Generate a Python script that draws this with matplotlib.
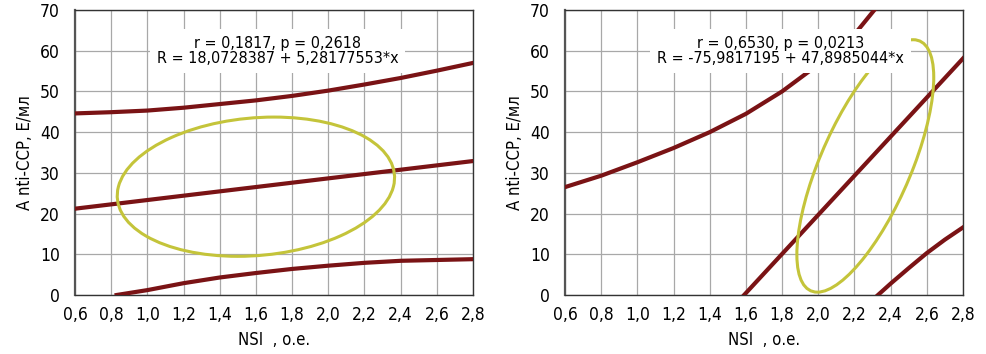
import matplotlib
matplotlib.use('Agg')
import matplotlib.pyplot as plt
from matplotlib import font_manager
from matplotlib.patches import Ellipse
from matplotlib.transforms import Affine2D

#------------------------------------------------------------------------------
# Data
#------------------------------------------------------------------------------
x_ticks = [0.6, 0.8, 1.0, 1.2, 1.4, 1.6, 1.8, 2.0, 2.2, 2.4, 2.6, 2.8]
x_ticklabels = ['0,6', '0,8', '1,0', '1,2', '1,4', '1,6', '1,8', '2,0', '2,2', '2,4', '2,6', '2,8']
y_ticks = [0, 10, 20, 30, 40, 50, 60, 70]

# left panel
l_fit_x = [0.6, 2.8]
l_fit_y = [21.2, 32.9]
l_up_x = [0.6, 0.8, 1.0, 1.2, 1.4, 1.6, 1.8, 2.0, 2.2, 2.4, 2.6, 2.8]
l_up_y = [44.6, 44.9, 45.3, 46.0, 46.9, 47.8, 48.9, 50.2, 51.7, 53.3, 55.1, 57.0]
l_lo_x = [0.83, 1.0, 1.2, 1.4, 1.6, 1.8, 2.0, 2.2, 2.4, 2.6, 2.8]
l_lo_y = [0.0, 1.2, 2.9, 4.3, 5.4, 6.4, 7.2, 7.9, 8.4, 8.6, 8.8]
l_ell_center = (1.60, 26.6)
l_ell_u = (0.10, 17.1)
l_ell_v = (0.76, 0.0)
l_text = 'r = 0,1817, p = 0,2618\nR = 18,0728387 + 5,28177553*x'

# right panel
r_fit_x = [1.59, 2.8]
r_fit_y = [0.0, 58.1]
r_up_x = [0.6, 0.8, 1.0, 1.2, 1.4, 1.6, 1.8, 2.0, 2.2, 2.31]
r_up_y = [26.5, 29.3, 32.6, 36.1, 40.0, 44.5, 50.0, 56.6, 64.0, 70.0]
r_lo_x = [2.33, 2.4, 2.5, 2.6, 2.7, 2.8]
r_lo_y = [0.0, 2.8, 6.6, 10.3, 13.6, 16.6]
r_ell_center = (2.26, 31.7)
r_ell_u = (0.265, 31.0)
r_ell_v = (0.27, 0.0)
r_text = 'r = 0,6530, p = 0,0213\nR = -75,9817195 + 47,8985044*x'

#------------------------------------------------------------------------------
# Plot
#------------------------------------------------------------------------------
# condensed face if one is installed
cond = font_manager.FontProperties(family='DejaVu Sans', stretch='condensed')
cond_file = font_manager.findfont(cond)
if 'Condensed' in cond_file:
    tick_font = dict(family='DejaVu Sans', stretch='condensed', size=12.5)
else:
    tick_font = dict(family='Liberation Sans', size=12)

plt.rcParams['font.family'] = ['Liberation Sans', 'DejaVu Sans']
red = '#7a1315'
yellow = '#c4c43a'

fig = plt.figure(figsize=(9.86, 3.54), dpi=100)
ax1 = fig.add_axes([75/986, 59/354, 398/986, 285/354])
ax2 = fig.add_axes([565/986, 59/354, 398/986, 285/354])

panels = [
    (ax1, l_fit_x, l_fit_y, l_up_x, l_up_y, l_lo_x, l_lo_y, l_ell_center, l_ell_u, l_ell_v, l_text, 1.72),
    (ax2, r_fit_x, r_fit_y, r_up_x, r_up_y, r_lo_x, r_lo_y, r_ell_center, r_ell_u, r_ell_v, r_text, 1.79),
]

for ax, fx, fy, ux, uy, lx, ly, c, u, v, txt, tx in panels:
    ax.set_xlim(0.6, 2.8)
    ax.set_ylim(0, 70)
    ax.set_xticks(x_ticks)
    ax.set_xticklabels(x_ticklabels, fontdict=tick_font)
    ax.set_yticks(y_ticks)
    ax.set_yticklabels([str(t) for t in y_ticks], fontdict=tick_font)
    ax.tick_params(axis='x', length=0, pad=8)
    ax.tick_params(axis='y', length=0, pad=11)
    ax.grid(True, color='#a8a8a8', linewidth=0.9)
    ax.set_axisbelow(True)
    for s in ax.spines.values():
        s.set_color('#333333')
        s.set_linewidth(1.0)
    ax.spines['left'].set_linewidth(1.6)
    ax.spines['left'].set_color('#555555')

    ax.plot(fx, fy, color=red, linewidth=3.0, zorder=3)
    ax.plot(ux, uy, color=red, linewidth=3.0, zorder=3)
    ax.plot(lx, ly, color=red, linewidth=3.0, zorder=3)

    # ellipse: unit circle mapped by conjugate half-axes u, v
    m = Affine2D.from_values(v[0], v[1], u[0], u[1], c[0], c[1])
    e = Ellipse((0, 0), 2, 2, fill=False, edgecolor=yellow, linewidth=2.2,
                transform=m + ax.transData, zorder=4)
    ax.add_patch(e)

    ax.text(tx, 60.0, txt, ha='center', va='center', fontsize=11.5,
            family='DejaVu Sans', stretch='condensed',
            linespacing=1.0, zorder=5,
            bbox=dict(facecolor='white', edgecolor='none', pad=5))

    ax.set_xlabel('NSI  , о.е.', fontsize=12, family='DejaVu Sans',
                  stretch='condensed', labelpad=5)
    ax.set_ylabel('A nti-CCP, Е/мл', fontsize=12, family='DejaVu Sans',
                  stretch='condensed', labelpad=4)

fig.savefig('out.png', dpi=100)
